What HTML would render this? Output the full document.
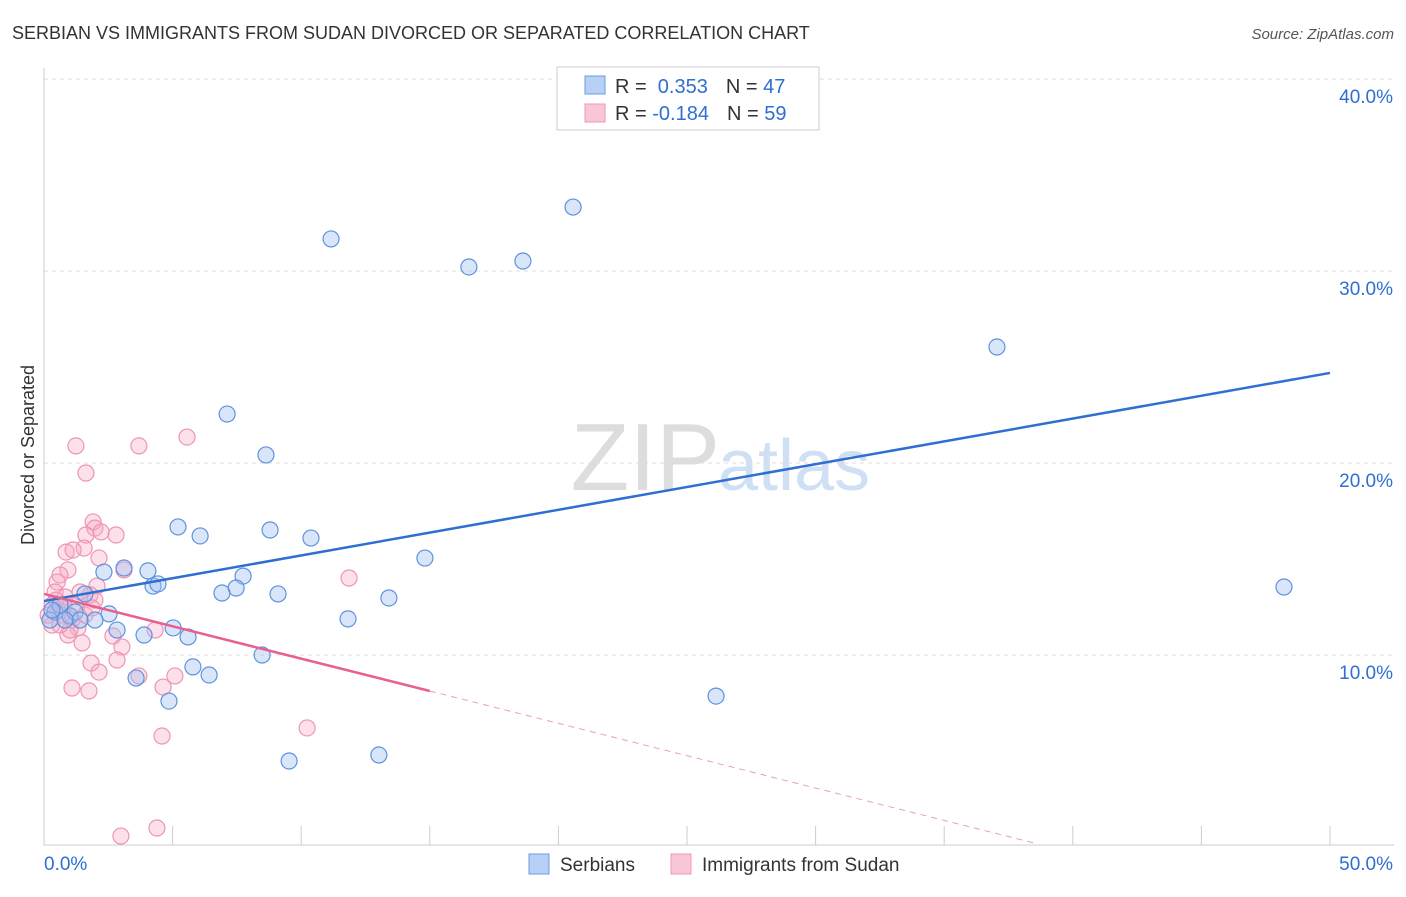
<!DOCTYPE html>
<html><head><meta charset="utf-8"><style>
body{margin:0;background:#fff;font-family:"Liberation Sans",sans-serif}
svg text{font-family:"Liberation Sans",sans-serif}
</style></head><body>
<svg id="c" width="1406" height="892">
<text x="12" y="39" font-size="18" fill="#333">SERBIAN VS IMMIGRANTS FROM SUDAN DIVORCED OR SEPARATED CORRELATION CHART</text>
<text x="1394" y="39" font-size="15" fill="#555" text-anchor="end" font-style="italic">Source: ZipAtlas.com</text>
<text x="720" y="490" font-size="96" fill="#ddd" text-anchor="end" font-family="Liberation Serif">ZIP</text>
<text x="718" y="490" font-size="72" fill="#cfe0f5">atlas</text>
<text transform="translate(34,455) rotate(-90)" font-size="18" fill="#333" text-anchor="middle">Divorced or Separated</text>
<g id="grid"></g><g id="marks"></g>
<g>
<rect x="557" y="67" width="262" height="63" fill="#fff" stroke="#ccc"/>
<rect x="585" y="76" width="20" height="18" fill="#b8d0f5" stroke="#6a9be0"/>
<rect x="585" y="104" width="20" height="18" fill="#f9c6d6" stroke="#ee9ab8"/>
<text x="615" y="93" font-size="20" fill="#333">R = <tspan fill="#2f6fd0">&#160;0.353</tspan><tspan dx="18">N = </tspan><tspan fill="#2f6fd0">47</tspan></text>
<text x="615" y="120" font-size="20" fill="#333">R = <tspan fill="#2f6fd0">-0.184</tspan><tspan dx="18">N = </tspan><tspan fill="#2f6fd0">59</tspan></text>
</g>
<g>
<rect x="529" y="854" width="20" height="20" fill="#b8d0f5" stroke="#6a9be0"/>
<text x="560" y="871" font-size="19" fill="#333">Serbians</text>
<rect x="671" y="854" width="20" height="20" fill="#f9c6d6" stroke="#ee9ab8"/>
<text x="702" y="871" font-size="19" fill="#333">Immigrants from Sudan</text>
</g>
</svg>
<script>
const yTicks=[10,20,30,40];
const yTickLabels=["10.0%","20.0%","30.0%","40.0%"];
const xTickLabels=["0.0%","50.0%"];
const blueX=[20.57,11.16,16.52,18.62,37.05,7.12,8.63,5.21,6.07,8.79,10.38,14.81,2.33,3.11,4.04,7.74,4.24,4.43,7.47,6.92,9.10,13.41,1.59,2.53,0.43,1.01,1.98,11.82,2.84,3.89,5.02,5.60,8.48,5.79,6.42,3.58,4.86,26.13,9.53,13.02,48.21,0.23,0.62,1.21,1.40,0.31,0.82];
const blueY=[33.33,31.67,30.21,30.52,26.04,22.55,20.42,16.67,16.20,16.51,16.09,15.05,14.32,14.53,14.38,14.11,13.59,13.70,13.49,13.23,13.18,12.97,13.18,12.14,12.24,12.03,11.82,11.88,11.30,11.04,11.41,10.94,10.00,9.38,8.96,8.80,7.60,7.86,4.48,4.79,13.54,11.82,12.60,12.24,11.82,12.34,11.82];
const pinkX=[1.24,3.69,5.56,1.63,1.91,1.98,1.63,2.80,2.22,1.56,0.86,1.13,2.14,0.93,0.62,0.51,2.06,3.11,11.86,0.43,0.82,1.79,1.40,1.98,0.31,0.54,0.70,1.09,1.32,0.93,1.48,2.68,3.03,4.32,1.83,2.84,2.14,3.69,5.09,1.09,1.75,4.63,10.23,4.59,2.99,4.39,0.31,0.16,0.47,0.78,1.01,0.62,1.21,1.59,1.87];
const pinkY=[20.89,20.89,21.35,19.48,16.93,16.61,16.25,16.25,16.41,15.57,15.36,15.47,15.05,14.43,14.17,13.80,13.59,14.43,14.01,13.28,13.02,13.13,13.28,12.86,12.60,12.34,12.08,11.82,11.41,11.04,10.63,10.99,10.42,11.30,9.58,9.74,9.11,8.91,8.91,8.28,8.13,8.33,6.20,5.78,0.57,0.99,11.56,12.08,12.86,12.55,11.30,11.56,12.60,12.08,12.45];
const blueTrend=[12.81,24.69];
const pinkTrend=[13.18,-0.337];
const NS="http://www.w3.org/2000/svg";
const X=v=>44+v*25.72, Y=v=>847-v*19.2;
function mk(p,t,a){const e=document.createElementNS(NS,t);for(const k in a)e.setAttribute(k,a[k]);p.appendChild(e);return e;}
const g=document.getElementById('grid'),m=document.getElementById('marks');
yTicks.forEach((t,i)=>{
const l=mk(g,'line',{x1:44,x2:1394,y1:Y(t),y2:Y(t),stroke:'#ddd','stroke-dasharray':'4,4'});


const tx=mk(g,'text',{x:1393,y:Y(t)+24,'font-size':19,fill:'#2f6fd0','text-anchor':'end'});tx.textContent=yTickLabels[i];


});
mk(g,'line',{x1:44,x2:44,y1:68,y2:845,stroke:'#ccc'});
mk(g,'line',{x1:44,x2:1394,y1:845,y2:845,stroke:'#ccc'});
for(let p=5;p<=50;p+=5){const t=mk(g,'line',{x1:X(p),x2:X(p),y1:826,y2:845,stroke:'#ccc'});

}
const x0=mk(g,'text',{x:44,y:870,'font-size':19,fill:'#2f6fd0'});x0.textContent=xTickLabels[0];


const x1=mk(g,'text',{x:1393,y:870,'font-size':19,fill:'#2f6fd0','text-anchor':'end'});x1.textContent=xTickLabels[1];


pinkX.forEach((v,i)=>{const c=mk(m,'circle',{cx:X(v),cy:Y(pinkY[i]),r:8,fill:'rgba(246,168,196,0.35)',stroke:'#ee94b4','stroke-width':1.2});

});
blueX.forEach((v,i)=>{const c=mk(m,'circle',{cx:X(v),cy:Y(blueY[i]),r:8,fill:'rgba(160,192,240,0.4)',stroke:'#5e92de','stroke-width':1.2});

});
const bl=mk(m,'line',{x1:X(0),y1:Y(blueTrend[0]),x2:X(50),y2:Y(blueTrend[1]),stroke:'#2f6fd0','stroke-width':2.5});


const pf=x=>pinkTrend[0]+pinkTrend[1]*x;
const pl=mk(m,'line',{x1:X(0),y1:Y(pf(0)),x2:X(15),y2:Y(pf(15)),stroke:'#e8608f','stroke-width':2.5});


const pd=mk(m,'line',{x1:X(15),y1:Y(pf(15)),x2:X(38.5),y2:Y(pf(38.5)),stroke:'#e8a0b8','stroke-width':1,'stroke-dasharray':'6,5'});


</script>
</body></html>
